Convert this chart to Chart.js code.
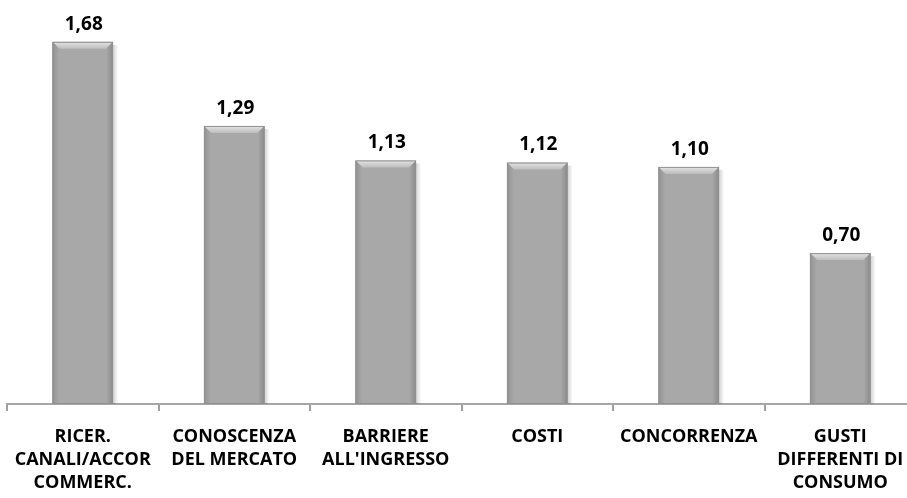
<!DOCTYPE html>
<html>
<head>
<meta charset="utf-8">
<script src="https://cdn.jsdelivr.net/npm/chart.js@4/dist/chart.umd.min.js"></script>
<style>
  html, body { margin: 0; padding: 0; background: #fff; overflow: hidden; }
  #wrap { position: relative; width: 925px; height: 498px; }
</style>
</head>
<body>
<div id="wrap"><canvas id="barChart"></canvas></div>
<script>
const categories = [
  ['RICER.', 'CANALI/ACCOR', 'COMMERC.'],
  ['CONOSCENZA', 'DEL MERCATO'],
  ['BARRIERE', "ALL'INGRESSO"],
  ['COSTI'],
  ['CONCORRENZA'],
  ['GUSTI', 'DIFFERENTI DI', 'CONSUMO'],
]
const scores = [1.68, 1.29, 1.13, 1.12, 1.10, 0.70]

const FONT = '"Open Sans", Lato, sans-serif'

// bevelled grey look: darker sides, lighter top edge
const bevelPlugin = {
  id: 'bevel',
  afterDatasetDraw(chart) {
    const ctx = chart.ctx
    chart.getDatasetMeta(0).data.forEach((bar) => {
      const left = bar.x - bar.width / 2
      const right = bar.x + bar.width / 2
      const top = bar.y
      const bottom = bar.base
      const b = 7
      ctx.save()
      // soft shadow on the right
      const gS = ctx.createLinearGradient(right, 0, right + 5, 0)
      gS.addColorStop(0, 'rgba(0,0,0,0.18)')
      gS.addColorStop(1, 'rgba(0,0,0,0)')
      ctx.fillStyle = gS
      ctx.fillRect(right, top + 3, 5, bottom - top - 3)
      // top bevel
      const gTop = ctx.createLinearGradient(0, top, 0, top + b)
      gTop.addColorStop(0, '#e4e4e4')
      gTop.addColorStop(1, '#bdbdbd')
      ctx.fillStyle = gTop
      ctx.beginPath()
      ctx.moveTo(left, top)
      ctx.lineTo(right, top)
      ctx.lineTo(right - b, top + b)
      ctx.lineTo(left + b, top + b)
      ctx.closePath()
      ctx.fill()
      // left side
      const gL = ctx.createLinearGradient(left, 0, left + b, 0)
      gL.addColorStop(0, '#929292')
      gL.addColorStop(1, '#a9a9a9')
      ctx.fillStyle = gL
      ctx.beginPath()
      ctx.moveTo(left, top)
      ctx.lineTo(left + b, top + b)
      ctx.lineTo(left + b, bottom)
      ctx.lineTo(left, bottom)
      ctx.closePath()
      ctx.fill()
      // right side
      const gR = ctx.createLinearGradient(right - b, 0, right, 0)
      gR.addColorStop(0, '#a9a9a9')
      gR.addColorStop(1, '#8a8a8a')
      ctx.fillStyle = gR
      ctx.beginPath()
      ctx.moveTo(right, top)
      ctx.lineTo(right - b, top + b)
      ctx.lineTo(right - b, bottom)
      ctx.lineTo(right, bottom)
      ctx.closePath()
      ctx.fill()
      ctx.strokeStyle = '#909090'
      ctx.lineWidth = 1
      ctx.strokeRect(left + 0.5, top + 0.5, bar.width - 1, bottom - top - 1)
      ctx.restore()
    })
  },
}

// value printed above each bar, Italian decimal comma
const valueLabels = {
  id: 'valueLabels',
  afterDatasetsDraw(chart) {
    const ctx = chart.ctx
    ctx.save()
    ctx.font = 'bold 19px ' + FONT
    ctx.fillStyle = '#000'
    ctx.textAlign = 'center'
    ctx.textBaseline = 'bottom'
    chart.getDatasetMeta(0).data.forEach((bar, i) => {
      const txt = scores[i].toFixed(2).replace('.', ',')
      ctx.fillText(txt, bar.x + 1, bar.y - 8)
    })
    ctx.restore()
  },
}

const ctx = document.getElementById('barChart').getContext('2d')
new Chart(ctx, {
  type: 'bar',
  data: {
    labels: categories,
    datasets: [
      {
        data: scores,
        backgroundColor: '#a8a8a8',
        borderWidth: 0,
        barPercentage: 0.4,
        categoryPercentage: 1,
      },
    ],
  },
  options: {
    responsive: true,
    maintainAspectRatio: false,
    animation: false,
    layout: { padding: { left: 7, right: 9, top: 16, bottom: 0 } },
    plugins: {
      legend: { display: false },
      tooltip: { enabled: false },
    },
    scales: {
      x: {
        offset: true,
        afterFit(scale) {
          scale.height = 94
        },
        grid: {
          offset: true,
          drawOnChartArea: false,
          drawTicks: true,
          tickLength: 7,
          color: '#a0a0a0',
          lineWidth: 2,
        },
        border: { display: true, color: '#a6a6a6', width: 2 },
        ticks: {
          color: '#000',
          padding: 14,
          maxRotation: 0,
          autoSkip: false,
          font: { family: FONT, size: 18, weight: 'bold', lineHeight: 1.28 },
        },
      },
      y: {
        display: false,
        min: 0,
        max: 1.8,
      },
    },
  },
  plugins: [bevelPlugin, valueLabels],
})
</script>
</body>
</html>
